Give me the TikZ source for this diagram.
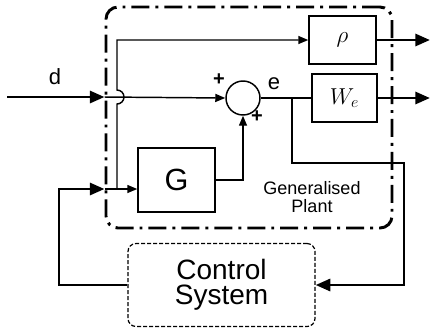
\documentclass[tikz,border=0pt]{standalone}
\usepackage{fontspec}
\setmainfont{Liberation Sans}
\usetikzlibrary{arrows.meta,calc}
\tikzset{
  blk/.style     ={rectangle, draw=black, line width=1.1pt, inner sep=0pt},
  sumnode/.style ={circle, draw=black, line width=1.1pt, minimum size=25.5pt, inner sep=0pt},
  plantbox/.style={rectangle, draw=black, rounded corners=9pt, line width=2.2pt,
                   dash pattern=on 13.5pt off 4.5pt on 2.2pt off 4.5pt},
  ctrlbox/.style ={rectangle, draw=black, rounded corners=6pt, line width=0.9pt,
                   dash pattern=on 3pt off 1.5pt, align=center},
  wire/.style    ={line width=1.1pt},
  sig/.style     ={wire, -{Triangle[length=7.5pt,width=6pt]}},
  bigsig/.style  ={line width=2.2pt, -{Triangle[length=11pt,width=9pt]}},
  lbl/.style     ={inner sep=0pt, font=\fontsize{16.5}{18}\selectfont},
  sgn/.style     ={inner sep=0pt, font=\bfseries\fontsize{15}{15}\selectfont},
  mathblk/.style ={blk, font=\fontsize{17.28}{18}\selectfont}
}

\begin{document}
\begin{tikzpicture}[x=0.75pt,y=-0.75pt]
  \useasboundingbox (0,0) rectangle (431,330);
  % blocks
  \node[plantbox, minimum width=214.5pt, minimum height=165.75pt] (plant) at (249,117.5) {};
  \node[mathblk, minimum width=50.25pt, minimum height=36pt] (rho) at (342.5,40) {$\rho$};
  \node[mathblk, minimum width=48.75pt, minimum height=36pt] (we)  at (344.5,98) {$W_e$};
  \node[sumnode] (sum) at (243,98) {};
  \node[blk, minimum width=57.75pt, minimum height=48pt,
        font=\fontsize{23}{23}\selectfont] (G) at (176.5,180) {G};
  \node[ctrlbox, minimum width=140.25pt, minimum height=62.25pt,
        font=\fontsize{21}{19}\selectfont] (ctrl) at (221.5,285) {Control\\System};
  \node[align=center, inner sep=0pt, font=\fontsize{13.5}{13.5}\selectfont]
        (gplant) at (312,197) {Generalised\\Plant};
  % labels
  \node[lbl] (dlbl) at (55,77) {d};
  \node[lbl] (elbl) at (274,84) {e};
  \node[sgn] (pa) at (219,80) {+};
  \node[sgn] (pb) at (257,117) {+};
  % points
  \coordinate (din)     at (7,97);
  \coordinate (usplit)  at (117,189);
  \coordinate (ubend)   at (59,189);
  \coordinate (ebranch) at (292,98);
  \coordinate (fbthick) at (325,163);
  \coordinate (fbright) at (404,163);
  \coordinate (rhoout)  at (430,40);
  \coordinate (weout)   at (430,98);
  % signals
  \draw[bigsig] (din) -- (din -| plant.west);
  \draw[sig] (din -| plant.west) -- (sum.west);
  \draw[wire] (plant.west |- usplit) -- (usplit);
  \draw[sig] (usplit) -- (usplit -| G.west);
  \draw[sig] (usplit) -- (117,104) arc[start angle=90, end angle=-90, radius=7]
             -- (117,40) -- (rho.west);
  \draw[sig] (G.east) -| (sum.south);
  \draw[wire] (sum.east) -- (we.west);
  \draw[bigsig] (rho.east) -- (rhoout);
  \draw[bigsig] (we.east) -- (weout);
  \draw[wire] (ebranch) |- (fbthick);
  \draw[bigsig] (fbthick) -- (fbright) |- (ctrl.east);
  \draw[bigsig] (ctrl.west) -| (ubend) -- (plant.west |- usplit);
\end{tikzpicture}
\end{document}
